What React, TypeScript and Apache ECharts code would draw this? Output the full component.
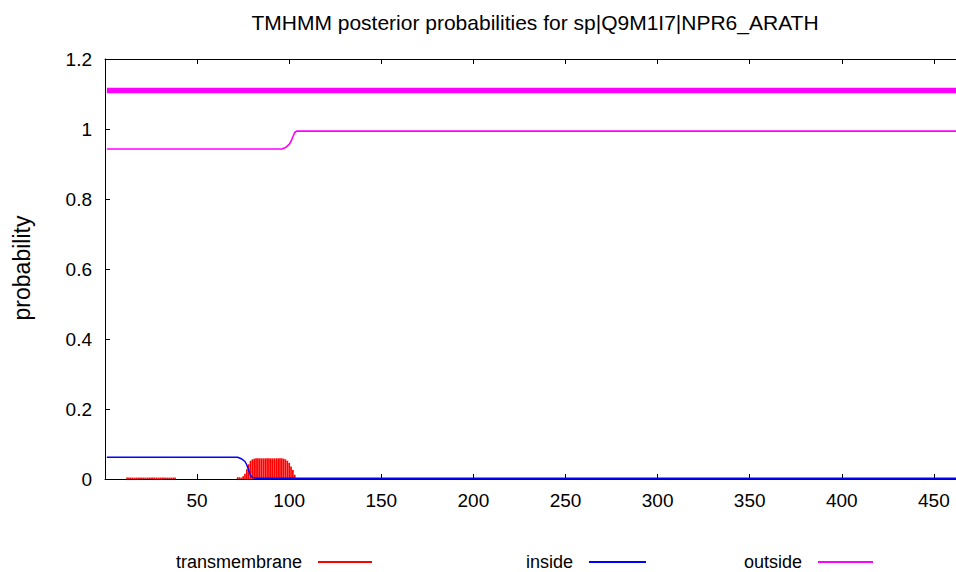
import React, { useEffect, useRef } from "react";
import * as echarts from "echarts";

const titleText = "TMHMM posterior probabilities for sp|Q9M1I7|NPR6_ARATH";
const yAxisName = "probability";
const seqLength = 466;

// transmembrane posterior (impulses), residue positions and probabilities
const tmPos = [
  12, 13, 14, 15, 16, 17, 18, 19, 20, 21, 22, 23, 24, 25, 26, 27, 28, 29, 30, 31, 32, 33, 34, 35, 36, 37, 38,
  72, 73, 74, 75, 76, 77, 78, 79, 80, 81, 82, 83, 84, 85, 86, 87, 88, 89, 90, 91, 92, 93, 94, 95, 96, 97, 98, 99, 100, 101, 102, 103,
];
const tmProb = [
  0.004, 0.004, 0.004, 0.004, 0.004, 0.004, 0.004, 0.004, 0.004, 0.004, 0.004, 0.004, 0.004, 0.004, 0.004, 0.004, 0.004, 0.004, 0.004, 0.004, 0.004, 0.004, 0.004, 0.004, 0.004, 0.004, 0.004,
  0.005, 0.005, 0.004, 0.008, 0.015, 0.028, 0.042, 0.052, 0.056, 0.058, 0.059, 0.059, 0.059, 0.059, 0.059, 0.059, 0.059, 0.059, 0.059, 0.059, 0.059, 0.059, 0.059, 0.059, 0.059, 0.058, 0.056, 0.052, 0.046, 0.036, 0.026, 0.012,
];

// inside posterior
const insidePos = [1, 72, 74, 76, 77, 78, 79, 80, 82, seqLength];
const insideProb = [0.062, 0.062, 0.058, 0.05, 0.04, 0.025, 0.01, 0.004, 0.002, 0.002];

// outside posterior
const outsidePos = [1, 96, 98, 100, 101, 102, 103, 104, seqLength];
const outsideProb = [0.943, 0.943, 0.947, 0.956, 0.965, 0.978, 0.99, 0.994, 0.994];

// best-path prediction bar (outside over whole sequence)
const predPos = [1, seqLength];
const predLevel = [1.11, 1.11];

const FONT = "Liberation Sans";

export default function App() {
  const ref = useRef<HTMLDivElement>(null);
  useEffect(() => {
    document.body.style.margin = "0";
    const chart = echarts.init(ref.current!, null, { renderer: "svg" });
    const zip = (xs: number[], ys: number[]) => xs.map((x, i) => [x, ys[i]]);
    const axisLineStyle = { color: "#000", width: 1 };
    const legendBase = {
      top: 548,
      align: "right",
      itemHeight: 2,
      textStyle: { fontSize: 18, color: "#000", fontFamily: FONT, padding: [0, 11, 0, 0] },
    };
    chart.setOption({
      animation: false,
      backgroundColor: "#fff",
      textStyle: { fontFamily: FONT },
      grid: { left: 105, top: 59, right: 0, bottom: 93, containLabel: false },
      xAxis: [
        {
          type: "value",
          min: 0,
          max: 462,
          interval: 50,
          position: "bottom",
          axisLine: { show: true, lineStyle: axisLineStyle },
          axisTick: { show: true, inside: true, length: 5, lineStyle: axisLineStyle },
          axisLabel: { color: "#000", fontSize: 19, margin: 12, fontFamily: FONT, showMaxLabel: false, showMinLabel: false },
          splitLine: { show: false },
        },
        {
          type: "value",
          min: 0,
          max: 462,
          interval: 50,
          position: "top",
          axisLine: { show: true, lineStyle: axisLineStyle },
          axisTick: { show: true, inside: true, length: 5, lineStyle: axisLineStyle },
          axisLabel: { show: false },
          splitLine: { show: false },
        },
      ],
      yAxis: {
        type: "value",
        min: 0,
        max: 1.2,
        interval: 0.2,
        axisLine: { show: true, lineStyle: axisLineStyle },
        axisTick: { show: true, inside: true, length: 5, lineStyle: axisLineStyle },
        axisLabel: {
          color: "#000",
          fontSize: 19,
          margin: 13,
          fontFamily: FONT,
          formatter: (v: number) => String(+v.toFixed(1)),
        },
        splitLine: { show: false },
      },
      legend: [
        { ...legendBase, data: [{ name: "transmembrane", icon: "rect" }], right: 956 - 377, itemWidth: 54 },
        { ...legendBase, data: [{ name: "inside", icon: "rect" }], right: 956 - 651, itemWidth: 57 },
        { ...legendBase, data: [{ name: "outside", icon: "rect" }], right: 956 - 878, itemWidth: 55 },
      ],
      graphic: [
        {
          type: "text",
          x: 535,
          y: 22,
          style: {
            text: titleText,
            fontSize: 21,
            fontFamily: FONT,
            fill: "#000",
            textAlign: "center",
            textVerticalAlign: "middle",
          },
        },
        {
          type: "text",
          x: 22,
          y: 268,
          rotation: Math.PI / 2,
          style: {
            text: yAxisName,
            fontSize: 23,
            fontFamily: FONT,
            fill: "#000",
            textAlign: "center",
            textVerticalAlign: "middle",
          },
        },
      ],
      series: [
        {
          name: "transmembrane",
          type: "bar",
          xAxisIndex: 0,
          data: zip(tmPos, tmProb),
          barWidth: 1.7,
          itemStyle: { color: "#ff0000" },
          z: 3,
        },
        {
          name: "inside",
          type: "line",
          xAxisIndex: 0,
          data: zip(insidePos, insideProb),
          showSymbol: false,
          symbol: "none",
          lineStyle: { color: "#0000ff", width: 1.5 },
          itemStyle: { color: "#0000ff" },
          z: 4,
        },
        {
          name: "outside",
          type: "line",
          xAxisIndex: 0,
          data: zip(outsidePos, outsideProb),
          showSymbol: false,
          symbol: "none",
          lineStyle: { color: "#ff00ff", width: 1.6 },
          itemStyle: { color: "#ff00ff" },
          z: 4,
        },
        {
          name: "prediction",
          type: "line",
          xAxisIndex: 0,
          data: zip(predPos, predLevel),
          showSymbol: false,
          symbol: "none",
          lineStyle: { color: "#ff00ff", width: 5.5 },
          z: 4,
        },
      ],
    });
    return () => chart.dispose();
  }, []);
  return <div ref={ref} style={{ width: 956, height: 572 }} />;
}
